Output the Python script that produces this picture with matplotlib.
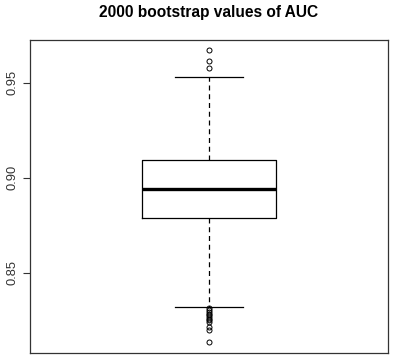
import matplotlib.pyplot as plt

# box statistics
q1, med, q3 = 0.8788, 0.894, 0.9093
whislo, whishi = 0.832, 0.9528
outliers = [0.967, 0.9617, 0.958,
            0.8312, 0.8302, 0.8293, 0.8285, 0.8275, 0.8265, 0.8257,
            0.8250, 0.8240, 0.8212, 0.8200, 0.8135]
yticks = [0.85, 0.90, 0.95]

plt.rcParams['font.family'] = ['Liberation Sans', 'DejaVu Sans']

fig = plt.figure(figsize=(3.98, 3.63), dpi=100)
ax = fig.add_axes([0.0754, 0.0275, 0.8996, 0.8623])

stats = [dict(med=med, q1=q1, q3=q3, whislo=whislo, whishi=whishi,
              fliers=outliers)]
ax.bxp(stats, positions=[1.0], widths=0.404, showfliers=True,
       boxprops=dict(color='black', lw=0.9),
       medianprops=dict(color='black', lw=2.4),
       whiskerprops=dict(color='black', lw=0.9, linestyle=(0, (4, 3))),
       capprops=dict(color='black', lw=0.9),
       capwidths=0.205,
       flierprops=dict(marker='o', markersize=3.6, markerfacecolor='none',
                       markeredgecolor='black', markeredgewidth=0.7))

ax.set_xlim(0.46, 1.54)
ax.set_ylim(0.8077, 0.9725)
ax.set_xticks([])
ax.set_yticks(yticks)
ax.set_yticklabels(['%.2f' % t for t in yticks], rotation=90, va='center',
                   fontsize=9.3, color='#333333')
ax.tick_params(axis='y', length=5, width=0.8, color='#333333', pad=3)
for s in ax.spines.values():
    s.set_color('#333333')
    s.set_linewidth(0.9)

fig.text(0.525, 0.965, '2000 bootstrap values of AUC', ha='center',
         va='center', fontsize=11.2, fontweight='bold')

fig.savefig('out.png', dpi=100)
